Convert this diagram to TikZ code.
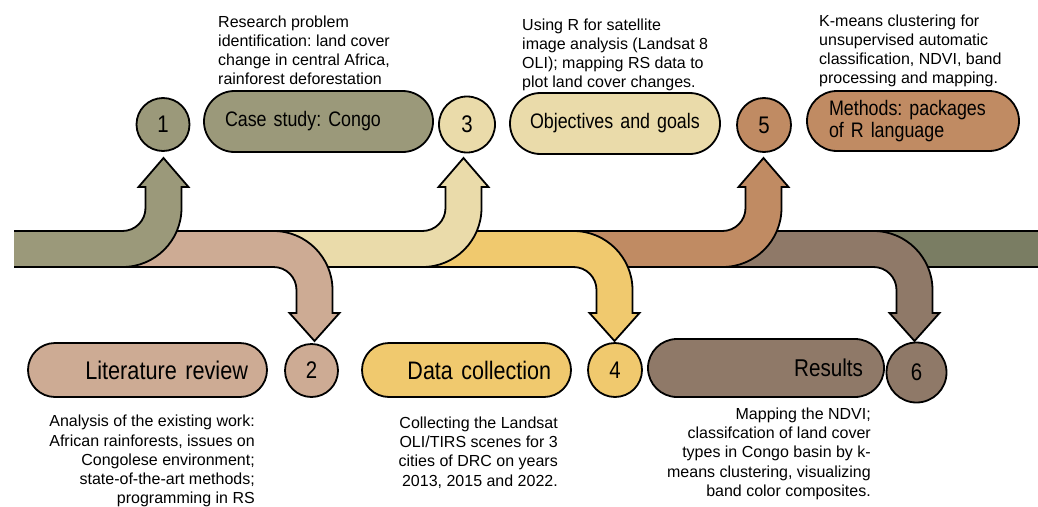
\documentclass[tikz,border=0pt]{standalone}
\usepackage{fontspec}
\setmainfont{Liberation Sans}
\newfontfamily\narrowfont[FakeStretch=0.85]{Liberation Sans}
\newcommand\NarrowAt[2]{\narrowfont\fontsize{#1}{#2}\selectfont\spaceskip=0.24em\relax}
\frenchspacing
\definecolor{cA}{RGB}{155,153,122}
\definecolor{cB}{RGB}{205,171,148}
\definecolor{cC}{RGB}{234,219,170}
\definecolor{cD}{RGB}{240,201,110}
\definecolor{cE}{RGB}{192,139,99}
\definecolor{cF}{RGB}{143,121,104}
\definecolor{cG}{RGB}{122,125,99}
\newcommand\MyUpSeg[3]{%
 \path[band, fill=#1] (#2,231) -- ({#3-41},231)
  .. controls ({#3-41+12.7},231) and ({#3-18},{208+12.7}) .. ({#3-18},208)
  -- ({#3-18},187) -- ({#3-25},187) -- (#3,158) -- ({#3+25},187) -- ({#3+18},187)
  -- ({#3+18},208)
  .. controls ({#3+18},{208+32.6}) and ({#3-41+32.6},267) .. ({#3-41},267)
  -- (#2,267);}
\newcommand\MyDownSeg[3]{%
 \path[band, fill=#1] (#2,231) -- ({#3-41},231)
  .. controls ({#3-41+32.6},231) and ({#3+18},{290-32.6}) .. ({#3+18},290)
  -- ({#3+18},313) -- ({#3+25},313) -- (#3,341) -- ({#3-25},313) -- ({#3-18},313)
  -- ({#3-18},290)
  .. controls ({#3-18},{290-12.7}) and ({#3-41+12.7},267) .. ({#3-41},267)
  -- (#2,267);}
\begin{document}
\frenchspacing
\begin{tikzpicture}[x=1pt,y=-1pt,
  band/.style={draw=black, line width=1.8pt, line join=miter},
  pill/.style={draw=black, line width=1.8pt, rounded corners=#1, inner xsep=0pt, inner ysep=0pt},
  num/.style={circle, draw=black, line width=1.8pt, inner sep=0pt, font=\NarrowAt{24}{24}},
  note/.style={inner sep=0pt, font=\fontsize{16}{19.2}\selectfont\frenchspacing}]
\useasboundingbox (0,0) rectangle (1038,506);
% band segments, drawn from last to first
\path[band, fill=cG] (863,231) -- (1045,231) -- (1045,267) -- (863,267);
\MyDownSeg{cF}{712.5}{914.5}
\MyUpSeg{cE}{563.5}{763.5}
\MyDownSeg{cD}{412.5}{614.5}
\MyUpSeg{cC}{263.5}{463.5}
\MyDownSeg{cB}{112.5}{314.5}
\MyUpSeg{cA}{14}{163.5}
% numbered circles
\node[num, fill=cA, minimum size=53] (n1) at (163,124.5) {1};
\node[num, fill=cB, minimum size=53] (n2) at (311.5,370.5) {2};
\node[num, fill=cC, minimum size=56] (n3) at (467,124.5) {3};
\node[num, fill=cD, minimum size=54] (n4) at (615,370) {4};
\node[num, fill=cE, minimum size=54] (n5) at (764,125) {5};
\node[num, fill=cF, minimum size=60] (n6) at (916.5,372.5) {6};
% pills
\node[pill=30.5, fill=cA, minimum width=229, minimum height=61, text width=187, align=left,
  font=\NarrowAt{21}{22}\frenchspacing] (p1) at (318.5,121.5) {Case study: Congo};
\node[pill=30.5, fill=cC, minimum width=210, minimum height=61, text width=170, align=left,
  font=\NarrowAt{21}{22}] (p3) at (615,123.5) {Objectives and goals};
\node[pill=30, fill=cE, minimum width=212, minimum height=60, text width=168, align=left,
  font=\NarrowAt{21}{22}\frenchspacing] (p5) at (913,121) {Methods: packages\\of R language};
\node[pill=27, fill=cB, minimum width=239, minimum height=54, text width=201, align=right,
  font=\NarrowAt{25.5}{26}] (p2) at (147.5,370) {Literature review};
\node[pill=27, fill=cD, minimum width=209, minimum height=54, text width=169, align=right,
  font=\NarrowAt{25.3}{26}] (p4) at (466.5,370) {Data collection};
\node[pill=29, fill=cF, minimum width=236, minimum height=58, text width=194, align=right,
  font=\NarrowAt{24.3}{26}] (p6) at (766,368) {Results};
% notes
\node[note, anchor=north west, align=left] (t1) at (218,15.5)
  {Research problem\\identification: land cover\\change in central Africa,\\rainforest deforestation};
\node[note, anchor=north west, align=left] (t3) at (522,18.3)
  {Using R for satellite\\image analysis (Landsat 8\\OLI); mapping RS data to\\plot land cover changes.};
\node[note, anchor=north west, align=left] (t5) at (819,14.5)
  {K-means clustering for\\unsupervised automatic\\classification, NDVI, band\\processing and mapping.};
\node[note, anchor=north east, align=right] (t2) at (255,415)
  {Analysis of the existing work:\\African rainforests, issues on\\Congolese environment;\\state-of-the-art methods;\\programming in RS};
\node[note, anchor=north east, align=right] (t4) at (558,416.6)
  {Collecting the Landsat\\OLI/TIRS scenes for 3\\cities of DRC on years\\2013, 2015 and 2022.};
\node[note, anchor=north east, align=right] (t6) at (871,407.6)
  {Mapping the NDVI;\\classifcation of land cover\\types in Congo basin by k-\\means clustering, visualizing\\band color composites.};
\end{tikzpicture}
\end{document}
